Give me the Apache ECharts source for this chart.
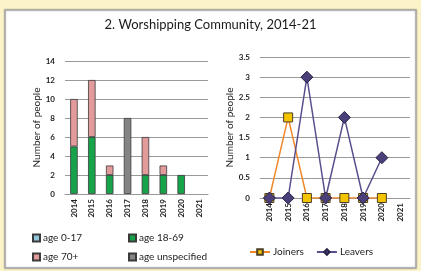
<!DOCTYPE html>
<html>
<head>
<meta charset="utf-8">
<script src="https://cdn.jsdelivr.net/npm/echarts@6/dist/echarts.min.js"></script>
<style>
  html, body { margin: 0; padding: 0; background: #fcf4c8; }
  #chart { width: 421px; height: 271px; }
</style>
</head>
<body>
<div id="chart"></div>
<script>
const years = ['2014', '2015', '2016', '2017', '2018', '2019', '2020', '2021']
// left chart: people by age band (null = no bar drawn)
const age0to17 = [null, null, null, null, null, null, null, null]
const age18to69 = [5, 6, 2, null, 2, 2, 2, null]
const age70plus = [5, 6, 1, null, 4, 1, null, null]
const ageUnspecified = [null, null, null, 8, null, null, null, null]
// right chart: joiners and leavers
const joiners = [0, 2, 0, 0, 0, 0, 0, null]
const leavers = [0, 0, 3, 0, 2, 0, 1, null]

const font = 'Lato'
const chart = echarts.init(document.getElementById('chart'))

const barSeries = (name, data, color) => ({
  name: name,
  type: 'bar',
  stack: 'age',
  data: data,
  barWidth: '42%',
  xAxisIndex: 0,
  yAxisIndex: 0,
  itemStyle: { color: color, borderColor: '#3a3a3a', borderWidth: 0.8 }
})

const xAxisCommon = {
  type: 'category',
  data: years,
  axisTick: { show: false },
  axisLine: { lineStyle: { color: '#999', width: 1 } },
  axisLabel: { rotate: 90, fontSize: 8, fontFamily: font, color: '#222', fontWeight: 'bold', margin: 5, interval: 0 }
}

const yAxisCommon = {
  type: 'value',
  nameLocation: 'middle',
  nameRotate: 90,
  nameTextStyle: { fontSize: 10, fontFamily: font, color: '#222' },
  axisLine: { show: false },
  axisTick: { show: false },
  axisLabel: { fontSize: 8, fontFamily: font, color: '#222', fontWeight: 'bold', margin: 10 },
  splitLine: { lineStyle: { color: '#9a9a9a', width: 1 } }
}

chart.setOption({
  backgroundColor: '#fcf4c8',
  animation: false,
  graphic: [{
    type: 'rect',
    z: -10,
    shape: { x: 5, y: 10, width: 411, height: 258 },
    style: { fill: '#fff', stroke: '#a8a8a8', lineWidth: 1.5, shadowColor: 'rgba(0,0,0,0.25)', shadowBlur: 2 }
  }],
  title: {
    text: '2. Worshipping Community, 2014-21',
    left: 'center',
    top: 13,
    textStyle: { fontSize: 13, fontFamily: font, fontWeight: 'normal', color: '#1a1a1a' }
  },
  grid: [
    { left: 65, right: 213, top: 61, bottom: 77 },
    { left: 260, right: 11, top: 57, bottom: 73 }
  ],
  xAxis: [
    Object.assign({ gridIndex: 0 }, xAxisCommon),
    Object.assign({ gridIndex: 1 }, xAxisCommon)
  ],
  yAxis: [
    Object.assign({}, yAxisCommon, { gridIndex: 0, min: 0, max: 14, interval: 2, name: 'Number of people', nameGap: 22 }),
    Object.assign({}, yAxisCommon, { gridIndex: 1, min: 0, max: 3.5, interval: 0.5, name: 'Number of people', nameGap: 22 })
  ],
  legend: [
    {
      orient: 'vertical', left: 27, top: 228, itemGap: 9,
      itemWidth: 7, itemHeight: 7, icon: 'rect',
      textStyle: { fontSize: 10, fontFamily: font, color: '#222', padding: [0, 0, 0, -2] },
      data: ['age 0-17', 'age 70+']
    },
    {
      orient: 'vertical', left: 123, top: 228, itemGap: 9,
      itemWidth: 7, itemHeight: 7, icon: 'rect',
      textStyle: { fontSize: 10, fontFamily: font, color: '#222', padding: [0, 0, 0, -2] },
      data: ['age 18-69', 'age unspecified']
    },
    {
      left: 244, top: 242, itemGap: 12,
      itemWidth: 20, itemHeight: 7,
      textStyle: { fontSize: 10, fontFamily: font, color: '#222', padding: [0, 0, 0, -2] },
      data: ['Joiners', 'Leavers']
    }
  ],
  series: [
    barSeries('age 0-17', age0to17, '#8fc6dc'),
    barSeries('age 18-69', age18to69, '#16a34a'),
    barSeries('age 70+', age70plus, '#e39a9a'),
    barSeries('age unspecified', ageUnspecified, '#848484'),
    {
      name: 'Joiners',
      type: 'line',
      xAxisIndex: 1,
      yAxisIndex: 1,
      data: joiners,
      symbol: 'rect',
      symbolSize: 9,
      lineStyle: { color: '#f0882a', width: 1.5 },
      itemStyle: { color: '#f5c400', borderColor: '#4a3f20', borderWidth: 1 }
    },
    {
      name: 'Leavers',
      type: 'line',
      xAxisIndex: 1,
      yAxisIndex: 1,
      data: leavers,
      symbol: 'diamond',
      symbolSize: 12,
      z: 3,
      lineStyle: { color: '#5b4e8c', width: 1.5 },
      itemStyle: { color: '#4a3f78', borderColor: '#2a2448', borderWidth: 1 }
    }
  ]
})
</script>
</body>
</html>
